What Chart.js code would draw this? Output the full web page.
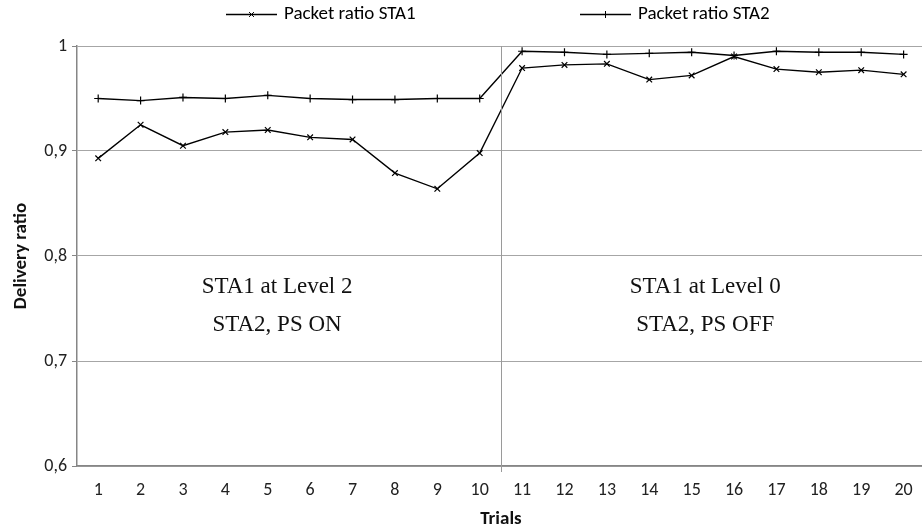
<!DOCTYPE html>
<html>
<head>
<meta charset="utf-8">
<script src="https://cdn.jsdelivr.net/npm/chart.js@4.4.0/dist/chart.umd.min.js"></script>
<style>
    html, body { margin: 0; padding: 0; background: #fff; overflow: hidden; }
    #wrap { width: 930px; height: 532px; }
</style>
</head>
<body>
<div id="wrap"><canvas id="ratioChart" width="930" height="532"></canvas></div>
<script>
// Data
const trials = ['1', '2', '3', '4', '5', '6', '7', '8', '9', '10',
    '11', '12', '13', '14', '15', '16', '17', '18', '19', '20'];
const sta1Ratio = [0.893, 0.925, 0.905, 0.918, 0.920, 0.913, 0.911, 0.879, 0.864, 0.898,
    0.979, 0.982, 0.983, 0.968, 0.972, 0.990, 0.978, 0.975, 0.977, 0.973];
const sta2Ratio = [0.950, 0.948, 0.951, 0.950, 0.953, 0.950, 0.949, 0.949, 0.950, 0.950,
    0.995, 0.994, 0.992, 0.993, 0.994, 0.991, 0.995, 0.994, 0.994, 0.992];
const seriesLabels = ['Packet ratio STA1', 'Packet ratio STA2'];
const yTicks = [0.6, 0.7, 0.8, 0.9, 1];
const notes = [
    { x: 4.22, lines: ['STA1 at Level 2', 'STA2, PS ON'] },
    { x: 14.32, lines: ['STA1 at Level 0', 'STA2, PS OFF'] }
];

const labelFont = "Carlito, 'Liberation Sans Narrow', Lato, sans-serif";
const noteFont = "'Liberation Serif', 'DejaVu Serif', serif";

function formatTick(v) {
    if (Math.abs(v - 1) < 1e-9) return '1';
    return v.toFixed(1).replace('.', ',');
}

// Draw a marker like the chart's own point styles
function drawMarker(ctx, style, x, y, r) {
    ctx.beginPath();
    if (style === 'crossRot') {
        ctx.moveTo(x - r * 0.7, y - r * 0.7); ctx.lineTo(x + r * 0.7, y + r * 0.7);
        ctx.moveTo(x + r * 0.7, y - r * 0.7); ctx.lineTo(x - r * 0.7, y + r * 0.7);
    } else {
        ctx.moveTo(x - r, y); ctx.lineTo(x + r, y);
        ctx.moveTo(x, y - r); ctx.lineTo(x, y + r);
    }
    ctx.stroke();
}

// Divider, region notes and legend
const extrasPlugin = {
    id: 'extras',
    afterDatasetsDraw(chart) {
        const ctx = chart.ctx;
        const xs = chart.scales.x;
        const ys = chart.scales.y;
        const area = chart.chartArea;

        // Vertical divider between trial 10 and 11
        const xd = Math.round((xs.getPixelForValue(9) + xs.getPixelForValue(10)) / 2) + 0.5;
        ctx.save();
        ctx.strokeStyle = '#9a9a9a';
        ctx.lineWidth = 1;
        ctx.beginPath();
        ctx.moveTo(xd, area.top);
        ctx.lineTo(xd, area.bottom + 6);
        ctx.stroke();

        // Notes
        ctx.fillStyle = '#111';
        ctx.font = '23px ' + noteFont;
        ctx.textAlign = 'center';
        ctx.textBaseline = 'middle';
        notes.forEach(n => {
            const px = xs.getPixelForValue(n.x);
            ctx.fillText(n.lines[0], px, ys.getPixelForValue(0.7705));
            ctx.fillText(n.lines[1], px, ys.getPixelForValue(0.734));
        });

        // Legend
        const legendX = [226, 580];
        ctx.font = '19px ' + labelFont;
        ctx.textAlign = 'left';
        chart.data.datasets.forEach((ds, i) => {
            const x0 = legendX[i];
            const y0 = 14.5;
            ctx.strokeStyle = '#000';
            ctx.lineWidth = 1.3;
            ctx.beginPath();
            ctx.moveTo(x0, y0);
            ctx.lineTo(x0 + 51, y0);
            ctx.stroke();
            ctx.lineWidth = 1;
            drawMarker(ctx, ds.pointStyle, x0 + 25.5, y0, 3.5);
            ctx.fillStyle = '#000';
            ctx.fillText(ds.label, x0 + 58, y0);
        });
        ctx.restore();
    }
};

const ctx = document.getElementById('ratioChart').getContext('2d');
const ratioChart = new Chart(ctx, {
    type: 'line',
    data: {
        labels: trials,
        datasets: [
            {
                label: seriesLabels[0],
                data: sta1Ratio,
                borderColor: '#000',
                borderWidth: 1.4,
                pointStyle: 'crossRot',
                pointRadius: 4,
                pointBorderColor: '#000',
                pointBorderWidth: 1.2,
                tension: 0,
                fill: false
            },
            {
                label: seriesLabels[1],
                data: sta2Ratio,
                borderColor: '#000',
                borderWidth: 1.4,
                pointStyle: 'cross',
                pointRadius: 4,
                pointBorderColor: '#000',
                pointBorderWidth: 1.2,
                tension: 0,
                fill: false
            }
        ]
    },
    options: {
        responsive: false,
        animation: false,
        layout: { padding: { top: 46, left: 10, right: 0, bottom: 1 } },
        plugins: {
            legend: { display: false },
            tooltip: { enabled: false }
        },
        scales: {
            x: {
                offset: true,
                grid: { display: false, drawTicks: false },
                border: { color: '#868686', width: 1.5 },
                ticks: {
                    color: '#222',
                    font: { family: labelFont, size: 18 },
                    padding: 14,
                    maxRotation: 0,
                    autoSkip: false
                },
                title: {
                    display: true,
                    text: 'Trials',
                    color: '#111',
                    font: { family: labelFont, size: 19, weight: 'bold' },
                    padding: { top: 3, bottom: 0 }
                },
                afterFit(scale) { scale.height = 532 - 466 - 1; }
            },
            y: {
                min: 0.6,
                max: 1,
                afterBuildTicks(scale) { scale.ticks = yTicks.map(v => ({ value: v })); },
                grid: { color: '#a6a6a6', lineWidth: 1, tickLength: 5, tickColor: '#868686' },
                border: { color: '#868686', width: 1.5 },
                ticks: {
                    color: '#222',
                    font: { family: labelFont, size: 18 },
                    padding: 5,
                    callback: v => formatTick(v)
                },
                title: {
                    display: true,
                    text: 'Delivery ratio',
                    color: '#111',
                    font: { family: labelFont, size: 19, weight: 'bold' },
                    padding: { top: 0, bottom: 8 }
                },
                afterFit(scale) { scale.width = 77 - 10; }
            }
        }
    },
    plugins: [extrasPlugin]
});
</script>
</body>
</html>
